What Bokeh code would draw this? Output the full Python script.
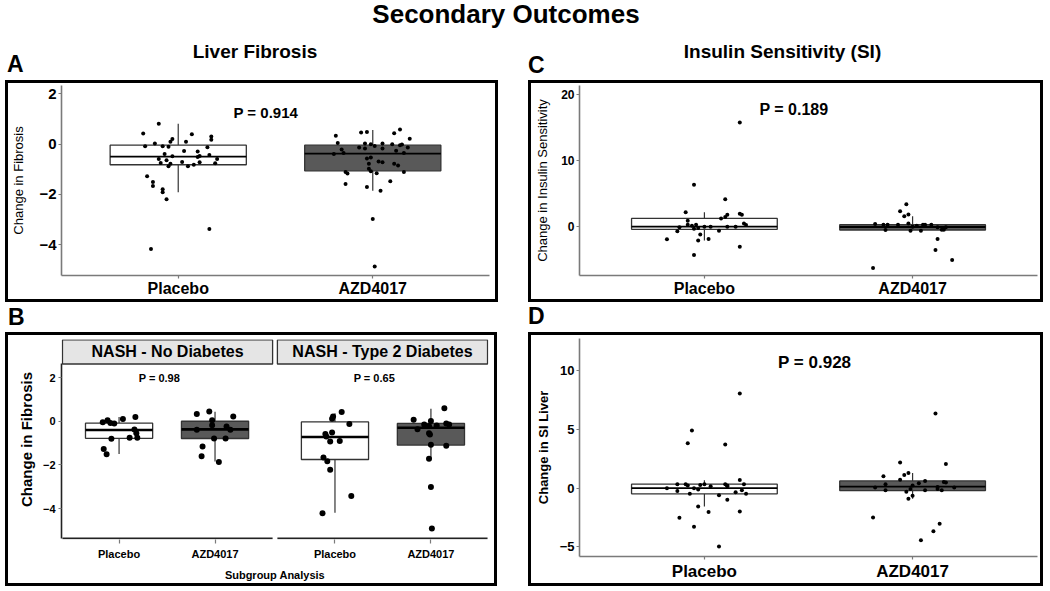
import numpy as np
from bokeh.plotting import figure
from bokeh.models import Range1d, FixedTicker, Label, Div, Spacer, ColumnDataSource
from bokeh.layouts import column, row
from bokeh.core.properties import value
from bokeh.embed import file_html
from bokeh.resources import INLINE

FONT = "Liberation Sans"

# ---------------- data ----------------
groups = ["Placebo", "AZD4017"]
group_fill = ["white", "#595959"]
facets = ["NASH - No Diabetes", "NASH - Type 2 Diabetes"]

# Panel A: change in fibrosis
A_placebo = [0.81, 0.42, 0.39, 0.30, 0.17, -0.08, 0.03, -0.08, -0.10, 0.20, 0.09, 0.09, -0.12,
             -0.39, -0.27, -0.29, -0.59, -0.48, -0.64, -0.51, -0.47, -0.43, -0.59, -0.75, -0.88,
             -0.78, -0.71, -0.88, -0.82, -0.72, -0.76, -1.28, -1.50, -1.66, -1.79, -1.91, -2.19,
             -3.37, -4.17]
A_placebo_jit = [-0.10, -0.18, 0.07, 0.17, 0.17, -0.17, -0.12, -0.08, -0.05, -0.03, -0.04, 0.04, 0.15,
                 -0.07, 0.03, 0.10, -0.10, -0.03, -0.06, 0.10, 0.11, 0.16, 0.20, -0.09, -0.05,
                 -0.04, 0.02, 0.05, 0.08, 0.11, 0.19, -0.16, -0.13, -0.13, -0.08, -0.08, -0.06,
                 0.16, -0.14]
A_azd = [0.33, 0.46, 0.48, 0.43, 0.58, 0.21, 0.05, -0.21, -0.39, -0.35, -0.13, -0.17, 0.03, 0.00,
         -0.07, 0.03, -0.17, 0.00, -0.26, -0.04, -0.01, -0.35, -0.13, -0.57, -0.53, -0.78, -0.69,
         -0.72, -0.78, -0.85, -0.98, -1.08, -1.11, -1.17, -1.16, -1.11, -1.58, -1.70, -1.47, -1.85,
         -2.97, -4.86]
A_azd_jit = [-0.19, -0.06, -0.03, 0.11, 0.14, 0.19, -0.18, -0.16, -0.20, -0.15, -0.07, -0.04, -0.04,
             -0.01, 0.01, 0.05, 0.05, 0.10, 0.12, 0.14, 0.15, 0.16, 0.18, -0.03, -0.01, -0.02, 0.03,
             0.05, 0.11, 0.13, -0.02, -0.01, -0.14, -0.13, 0.02, 0.16, -0.14, -0.03, 0.09, 0.04,
             0.00, 0.01]
A_q1 = [-0.82, -1.06]
A_med = [-0.50, -0.38]
A_q3 = [-0.04, -0.04]
A_lo = [-1.91, -1.85]
A_hi = [0.81, 0.56]
A_ticks = [2, 0, -2, -4]

# Panel B: subgroup analysis (facet 1 = no diabetes, facet 2 = type 2 diabetes)
B1_placebo = [-0.05, 0.05, -0.08, -0.10, 0.10, 0.19, -0.38, -0.55, -0.75, -0.75, -0.80, -1.27, -1.51]
B1_placebo_jit = [-0.17, -0.12, -0.09, -0.05, 0.04, 0.17, 0.16, 0.18, 0.19, 0.11, -0.08, -0.16, -0.13]
B1_azd = [0.33, 0.45, 0.22, 0.04, -0.18, -0.39, -0.24, -0.39, -0.79, -0.79, -1.15, -1.60, -1.87]
B1_azd_jit = [-0.19, -0.06, 0.19, -0.03, -0.03, -0.19, 0.12, 0.16, -0.01, 0.11, -0.13, -0.14, 0.04]
B1_q1 = [-0.78, -0.79]
B1_med = [-0.40, -0.37]
B1_q3 = [-0.09, 0.00]
B1_lo = [-1.50, -1.84]
B1_hi = [0.19, 0.43]
B2_placebo = [0.42, 0.22, 0.12, -0.13, -0.58, -0.70, -0.51, -0.93, -0.90, -1.66, -1.83, -2.22, -3.42, -4.21]
B2_placebo_jit = [0.07, -0.02, -0.03, 0.15, -0.10, -0.09, -0.03, -0.05, 0.05, -0.12, -0.08, -0.05, 0.17, -0.13]
B2_azd = [0.60, 0.07, 0.01, -0.37, -0.15, -0.22, -0.19, -0.10, -0.15, -0.55, -0.61, -1.08, -1.12,
          -1.72, -3.01, -4.91]
B2_azd_jit = [0.14, -0.18, 0.00, -0.14, -0.07, -0.02, 0.06, 0.16, 0.19, -0.02, -0.01, 0.00, 0.16,
              -0.02, 0.00, 0.01]
B2_q1 = [-1.75, -1.09]
B2_med = [-0.72, -0.30]
B2_q3 = [-0.03, -0.10]
B2_lo = [-4.19, -1.69]
B2_hi = [0.37, 0.57]
B_pvals = ["P = 0.98", "P = 0.65"]
B_ticks = [2, 0, -2, -4]

# Panel C: change in insulin sensitivity
C_placebo = [15.8, 6.35, 4.15, 2.2, 1.8, 1.95, 1.8, 1.25, 1.45, 0.5, 0.25, 0.9, 0.3, 0.15, 0.3, -0.1,
             -0.7, -0.3, -0.2, 0.0, 0.0, 0.0, 0.0, -0.6, -1.2, -1.85, -2.1, -1.9, -3.05, -4.3]
C_placebo_jit = [0.17, -0.05, 0.10, -0.09, 0.11, 0.17, 0.18, 0.08, 0.10, 0.19, 0.20, -0.08, -0.08,
                 -0.06, -0.04, -0.12, -0.13, -0.05, -0.03, 0.00, 0.03, 0.11, 0.15, 0.07, -0.02, 0.02,
                 -0.03, -0.18, 0.17, -0.05]
C_azd = [3.4, 2.35, 1.85, 1.6, 0.4, 0.3, 0.3, 0.3, 0.5, 0.15, 0.3, 0.3, 0.3, 0.0, -0.5, -0.6, -0.6,
         -0.1, -0.45, -0.45, -0.1, -1.85, -3.55, -5.05, -6.25]
C_azd_jit = [-0.03, -0.06, -0.02, -0.04, -0.18, -0.14, -0.12, -0.07, -0.02, 0.02, 0.05, 0.06, 0.09,
             0.00, -0.13, -0.01, 0.04, 0.12, 0.14, 0.15, 0.16, 0.12, 0.11, 0.19, -0.19]
C_q1 = [-0.40, -0.50]
C_med = [0.00, -0.05]
C_q3 = [1.25, 0.30]
C_lo = [-2.10, -0.55]
C_hi = [2.20, 1.60]
C_ticks = [20, 10, 0]

# Panel D: change in SI liver
D_placebo = [8.08, 4.92, 3.84, 3.73, 0.71, 0.00, 0.34, -0.23, 0.34, 0.23, -0.48, 0.00, -0.11, 0.28,
             0.34, 0.17, -0.59, 0.34, 0.23, 0.17, -0.34, -0.17, 0.34, -0.48, -0.99, -1.55, -2.03,
             -1.98, -2.51, -3.28, -4.97]
D_placebo_jit = [0.17, -0.06, -0.08, 0.10, 0.17, -0.18, -0.13, -0.13, -0.09, -0.08, -0.07, -0.05,
                 -0.03, -0.02, 0.00, 0.03, 0.07, 0.10, 0.11, 0.11, 0.15, 0.18, 0.19, 0.20, 0.11,
                 -0.03, 0.02, 0.17, -0.12, -0.05, 0.07]
D_azd = [6.36, 2.20, 2.06, 1.02, 1.13, 1.30, 0.73, 0.34, 0.06, -0.17, -0.31, -0.06, 0.23, 0.42, 0.62,
         -0.17, 0.11, -0.06, -0.17, 0.54, 0.48, 0.06, -0.90, -0.65, -2.49, -3.02, -3.67, -4.43]
D_azd_jit = [0.11, -0.06, 0.16, -0.14, -0.04, -0.02, -0.06, -0.13, -0.18, -0.13, -0.03, -0.01, 0.00,
             0.03, 0.06, 0.06, 0.12, 0.12, 0.14, 0.15, 0.16, 0.20, -0.02, 0.00, -0.19, 0.13, 0.10,
             0.04]
D_q1 = [-0.48, -0.20]
D_med = [0.00, 0.14]
D_q3 = [0.34, 0.62]
D_lo = [-1.55, -0.90]
D_hi = [0.68, 1.30]
D_ticks = [10, 5, 0, -5]

# ---------------- style ----------------
BOX_HALF = 0.35
BOX_LINE = "#333333"
AXIS_COL = "#7a7a7a"
FACET_OFF = 2.25  # x shift of second facet (facet width 2.2 + small gap)
PANEL_BORDER = {"outline": "3px solid black"}


def base_fig(w, h, xr, yr, left, right, top, bottom, margin):
    p = figure(width=w, height=h, x_range=Range1d(*xr), y_range=Range1d(*yr),
               output_backend="svg", toolbar_location=None,
               min_border_left=left, min_border_right=right,
               min_border_top=top, min_border_bottom=bottom,
               margin=margin, styles=PANEL_BORDER)
    p.grid.visible = False
    p.outline_line_color = None
    p.background_fill_color = "white"
    p.border_fill_color = "white"
    for ax in (p.xaxis, p.yaxis):
        ax.minor_tick_line_color = None
        ax.major_tick_in = 0
        ax.major_tick_out = 3
        ax.axis_line_color = AXIS_COL
        ax.axis_line_width = 1.6
        ax.major_tick_line_color = AXIS_COL
        ax.major_tick_line_width = 1.2
        ax.major_label_text_color = "black"
        ax.axis_label_text_color = "black"
        ax.major_label_text_font = FONT
        ax.major_label_text_font_style = "bold"
        ax.axis_label_text_font = FONT
        ax.axis_label_text_font_style = "normal"
    return p


def draw_groups(p, centers, q1, med, q3, lo, hi, pts, jits, dot_size, med_w):
    src = ColumnDataSource(dict(x=centers, left=[c - BOX_HALF for c in centers],
                                right=[c + BOX_HALF for c in centers],
                                q1=q1, med=med, q3=q3, lo=lo, hi=hi, fill=group_fill))
    p.segment(x0="x", y0="q3", x1="x", y1="hi", source=src, line_color=BOX_LINE, line_width=1.2)
    p.segment(x0="x", y0="q1", x1="x", y1="lo", source=src, line_color=BOX_LINE, line_width=1.2)
    p.quad(left="left", right="right", bottom="q1", top="q3", source=src,
           fill_color="fill", line_color=BOX_LINE, line_width=1.3)
    p.segment(x0="left", y0="med", x1="right", y1="med", source=src, line_color="black", line_width=med_w)
    for c, ys, js in zip(centers, pts, jits):
        p.scatter(x=[c + j for j in js], y=ys, size=dot_size, color="black", line_width=0)


def set_x_groups(p, centers, labels, size):
    p.xaxis.ticker = FixedTicker(ticks=centers)
    p.xaxis.major_label_overrides = {c: l for c, l in zip(centers, labels)}
    p.xaxis.major_label_text_font_size = size


def p_label(p, x, y, text, size):
    p.add_layout(Label(x=x, y=y, text=text, text_font=FONT, text_font_style="bold",
                       text_font_size=size, text_align="center", text_baseline="middle",
                       text_color="black"))


def text_span(txt, left, top, size, width=None):
    w = f"width:{width}px; text-align:center;" if width else ""
    return (f'<div style="position:absolute; left:{left}px; top:{top}px; {w} white-space:nowrap; '
            f'font-family:\'Liberation Sans\'; font-weight:bold; font-size:{size}px; '
            f'line-height:{size}px; color:black;">{txt}</div>')


def header_div(width, height, spans):
    html = f'<div style="position:relative; width:{width}px; height:{height}px;">' + "".join(spans) + "</div>"
    return Div(text=html, width=width, height=height, margin=(0, 0, 0, 0))


centers = [1, 2]

# ---------------- Panel A ----------------
pA = base_fig(487, 216, (0.4, 2.6), (-5.22, 2.33), 47, 6, 2, 21, (3, 5, 3, 8))
draw_groups(pA, centers, A_q1, A_med, A_q3, A_lo, A_hi, [A_placebo, A_azd], [A_placebo_jit, A_azd_jit], 4, 1.8)
set_x_groups(pA, centers, groups, "16px")
pA.xaxis.major_label_standoff = 1
pA.yaxis.ticker = FixedTicker(ticks=A_ticks)
pA.yaxis.major_label_text_font_size = "15px"
pA.yaxis.major_label_standoff = 2
pA.yaxis.axis_label = "Change in Fibrosis"
pA.yaxis.axis_label_text_font_size = "13px"
pA.yaxis.axis_label_standoff = 10
p_label(pA, 1.45, 1.24, "P = 0.914", "15px")

# ---------------- Panel B ----------------
B_panel_top = 2.62
B_panel_bottom = -5.36
B_strip_top = 3.72
pB = base_fig(486, 248, (0.4, 2.6 + FACET_OFF), (-5.41, 3.74), 43, 5, 4, 42, (3, 6, 3, 8))
centers2 = [c + FACET_OFF for c in centers]
draw_groups(pB, centers, B1_q1, B1_med, B1_q3, B1_lo, B1_hi, [B1_placebo, B1_azd], [B1_placebo_jit, B1_azd_jit], 6, 2.6)
draw_groups(pB, centers2, B2_q1, B2_med, B2_q3, B2_lo, B2_hi, [B2_placebo, B2_azd], [B2_placebo_jit, B2_azd_jit], 6, 2.6)
facet_left = [0.41, 0.4 + FACET_OFF]
facet_right = [2.6, 2.59 + FACET_OFF]
strip_src = ColumnDataSource(dict(left=facet_left, right=facet_right,
                                  bottom=[B_panel_top] * 2, top=[B_strip_top] * 2,
                                  base=[B_panel_bottom] * 2,
                                  xc=[(a + b) / 2 for a, b in zip(facet_left, facet_right)],
                                  yc=[(B_panel_top + B_strip_top) / 2] * 2, label=facets))
pB.quad(left="left", right="right", bottom="bottom", top="top", source=strip_src,
        fill_color="#e5e5e5", line_color="#333333", line_width=1.3)
pB.text(x="xc", y="yc", text="label", source=strip_src, text_font=value(FONT), text_font_style="bold",
        text_font_size="16px", text_align="center", text_baseline="middle", text_color="black")
# separate x-axis baseline for each facet
pB.segment(x0="left", x1="right", y0="base", y1="base", source=strip_src, line_color="#222222", line_width=1.6)
set_x_groups(pB, centers + centers2, groups + groups, "11px")
pB.xaxis.axis_line_color = None
pB.xaxis.major_tick_out = 4
pB.xaxis.major_label_standoff = 4
pB.xaxis.axis_label = "Subgroup Analysis"
pB.xaxis.axis_label_text_font_style = "bold"
pB.xaxis.axis_label_text_font_size = "11px"
pB.xaxis.axis_label_standoff = 6
pB.yaxis.axis_line_color = "#222222"
pB.yaxis.bounds = (B_panel_bottom, B_panel_top)
pB.yaxis.ticker = FixedTicker(ticks=B_ticks)
pB.yaxis.major_label_text_font_size = "11px"
pB.yaxis.major_label_standoff = 3
pB.yaxis.axis_label = "Change in Fibrosis"
pB.yaxis.axis_label_text_font_style = "bold"
pB.yaxis.axis_label_text_font_size = "15px"
pB.yaxis.axis_label_standoff = 5
pB.text(x=[1.42, 1.41 + FACET_OFF], y=[2.0, 1.97], text=B_pvals,
        text_font=value(FONT), text_font_style="bold", text_font_size="11px",
        text_align="center", text_baseline="middle", text_color="black")

# ---------------- Panel C ----------------
pC = base_fig(509, 216, (0.4, 2.6), (-7.4, 21.4), 48, 3, 2, 22, (3, 10, 3, 11))
draw_groups(pC, centers, C_q1, C_med, C_q3, C_lo, C_hi, [C_placebo, C_azd], [C_placebo_jit, C_azd_jit], 4, 1.8)
set_x_groups(pC, centers, groups, "16px")
pC.xaxis.major_label_standoff = 1
pC.yaxis.ticker = FixedTicker(ticks=C_ticks)
pC.yaxis.major_label_text_font_size = "12px"
pC.yaxis.major_label_standoff = 2
pC.yaxis.axis_label = "Change in Insulin Sensitivity"
pC.yaxis.axis_label_text_font_size = "13px"
pC.yaxis.axis_label_standoff = 8
p_label(pC, 1.43, 17.75, "P = 0.189", "16px")

# ---------------- Panel D ----------------
pD = base_fig(509, 248, (0.4, 2.6), (-5.82, 12.76), 48, 3, 3, 26, (3, 10, 3, 11))
draw_groups(pD, centers, D_q1, D_med, D_q3, D_lo, D_hi, [D_placebo, D_azd], [D_placebo_jit, D_azd_jit], 4, 1.8)
set_x_groups(pD, centers, groups, "17px")
pD.xaxis.major_label_standoff = 2
pD.yaxis.ticker = FixedTicker(ticks=D_ticks)
pD.yaxis.major_label_text_font_size = "13px"
pD.yaxis.major_label_standoff = 2
pD.yaxis.axis_label = "Change in SI Liver"
pD.yaxis.axis_label_text_font_style = "bold"
pD.yaxis.axis_label_text_font_size = "13px"
pD.yaxis.axis_label_standoff = 6
p_label(pD, 1.53, 10.7, "P = 0.928", "17px")

# ---------------- headers and layout ----------------
title = header_div(1050, 38, [text_span("Secondary Outcomes", 0, 1, 26, width=1012)])
head_L = header_div(500, 42, [text_span("Liver Fibrosis", 0, 4, 19, width=510),
                              text_span("A", 7, 15, 23)])
head_R = header_div(530, 42, [text_span("Insulin Sensitivity (SI)", 0, 4, 19, width=525),
                              text_span("C", 8, 16, 23)])
lab_B = header_div(500, 30, [text_span("B", 8, 4, 23)])
lab_D = header_div(530, 30, [text_span("D", 8, 3, 23)])

left_col = column(head_L, pA, lab_B, pB, spacing=0)
right_col = column(head_R, pC, lab_D, pD, spacing=0)
layout = column(title, row(left_col, Spacer(width=20, height=10), right_col, spacing=0), spacing=0)

open("out.html", "w").write(file_html(layout, INLINE))
